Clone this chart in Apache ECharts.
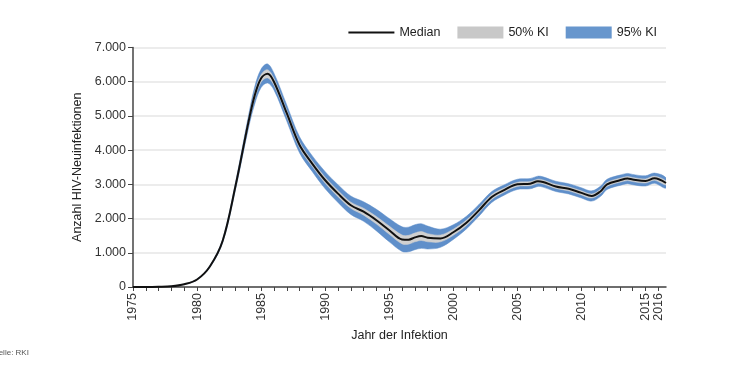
<!DOCTYPE html>
<html><head><meta charset="utf-8">
<script src="https://cdn.jsdelivr.net/npm/echarts@6/dist/echarts.min.js"></script>
<style>html,body{margin:0;padding:0;background:#fff}#c{width:750px;height:373px}</style>
</head><body><div id="c"></div>
<script>
// Years (x positions of the estimates)
var years = [1975,1976,1977,1978,1979,1980,1981,1982,1983,1984,1984.5,1985,1985.5,1986,1987,1988,1989,1990,1991,1992,1993,1994,1995,1996,1996.5,1997,1997.5,1998,1999,2000,2001,2002,2003,2004,2005,2006,2006.6,2007,2008,2009,2010,2010.8,2011.5,2012,2013,2013.6,2014,2015,2015.7,2016.6];
// Median number of new HIV infections
var median = [0,0,5,20,80,220,600,1350,2950,4800,5600,6100,6230,6000,5080,4150,3600,3120,2730,2390,2200,1950,1660,1390,1380,1450,1490,1440,1420,1600,1870,2240,2630,2840,3000,3020,3090,3070,2940,2870,2750,2660,2800,3000,3120,3170,3140,3100,3180,3040];
// 95% interval bounds
var lo95 = [0,0,5,18,75,210,575,1300,2850,4620,5350,5830,5960,5760,4850,3920,3370,2870,2470,2120,1920,1640,1320,1040,1030,1090,1130,1110,1160,1390,1690,2070,2470,2690,2850,2870,2940,2920,2790,2720,2600,2510,2650,2850,2970,3020,2990,2950,3030,2890];
var hi95 = [0,0,5,22,85,230,625,1400,3050,4980,5850,6370,6520,6250,5320,4390,3830,3370,2990,2660,2490,2270,2000,1760,1750,1820,1850,1780,1690,1820,2060,2410,2790,2990,3150,3170,3240,3220,3090,3020,2900,2810,2950,3150,3270,3320,3290,3250,3330,3190];
// 50% interval bounds
var lo50 = [0,0,5,19,78,215,590,1330,2910,4730,5500,5990,6110,5900,4990,4060,3520,3030,2640,2300,2100,1840,1540,1260,1250,1320,1360,1320,1320,1510,1790,2170,2560,2780,2940,2960,3030,3010,2880,2810,2690,2600,2740,2940,3060,3110,3080,3040,3120,2980];
var hi50 = [0,0,5,21,82,225,610,1370,2990,4870,5700,6210,6350,6100,5170,4240,3680,3210,2820,2480,2300,2060,1780,1520,1510,1580,1620,1560,1520,1690,1950,2310,2700,2900,3060,3080,3150,3130,3000,2930,2810,2720,2860,3060,3180,3230,3200,3160,3240,3100];
var xTickLabels = [1975,1980,1985,1990,1995,2000,2005,2010,2015,2016];

function pairs(arr){ return years.map(function(y,i){ return [y, arr[i]]; }); }
function de(v){ return String(v).replace(/\B(?=(\d{3})+(?!\d))/g,'.'); }

function bandRenderer(lo, hi, color){
  return function(params, api){
    if (params.dataIndex !== 0) return null;
    var top = years.map(function(y,i){ return api.coord([y, hi[i]]); });
    var bot = years.map(function(y,i){ return api.coord([y, lo[i]]); }).reverse();
    return {
      type:'polygon', shape:{points:top.concat(bot), smooth:0.35},
      style:{fill:color, stroke:color, lineWidth:0.5}
    };
  };
}

var FONT = "'Liberation Sans', Arial, sans-serif";
var chart = echarts.init(document.getElementById('c'), null, {renderer:'canvas'});
chart.setOption({
  animation:false,
  textStyle:{fontFamily:FONT},
  grid:{left:133, right:84, top:47.5, bottom:86},
  legend:{
    right:88, top:21, itemWidth:46, itemHeight:12, itemGap:17,
    textStyle:{fontFamily:FONT, fontSize:12.5, color:'#222'},
    data:[
      {name:'Median', icon:'path://M0,0 L46,0 L46,2 L0,2 Z', itemStyle:{color:'#111'}},
      {name:'50% KI', icon:'rect', itemStyle:{color:'#c8c8c8'}},
      {name:'95% KI', icon:'rect', itemStyle:{color:'#6796cd'}}
    ]
  },
  xAxis:{
    type:'value', min:1975, max:2016.6, interval:1,
    name:'Jahr der Infektion', nameLocation:'middle', nameGap:42,
    nameTextStyle:{fontFamily:FONT, fontSize:12.5, color:'#222'},
    axisLine:{lineStyle:{color:'#444', width:1.5}},
    axisTick:{length:4, lineStyle:{color:'#444'}},
    splitLine:{show:false},
    axisLabel:{rotate:90, fontSize:12.5, color:'#333', margin:6, fontFamily:FONT,
      showMaxLabel:false,
      formatter:function(v){ return xTickLabels.indexOf(v) >= 0 ? String(v) : ''; }}
  },
  yAxis:{
    type:'value', min:0, max:7000, interval:1000,
    name:'Anzahl HIV-Neuinfektionen', nameLocation:'middle', nameGap:47,
    nameTextStyle:{fontFamily:FONT, fontSize:12.5, color:'#222'},
    axisLine:{show:true, lineStyle:{color:'#444', width:1.5}},
    axisTick:{show:true, length:5, lineStyle:{color:'#444'}},
    splitLine:{lineStyle:{color:'#e6e6e6', width:1.5}},
    axisLabel:{fontSize:12.5, color:'#333', margin:7, fontFamily:FONT, formatter:function(v){return de(v);}}
  },
  series:[
    {name:'95% KI', type:'custom', data:pairs(hi95), itemStyle:{color:'#6796cd'},
     renderItem:bandRenderer(lo95, hi95, '#5f8fca'), clip:true, silent:true, z:1},
    {name:'50% KI', type:'custom', data:pairs(hi50), itemStyle:{color:'#c8c8c8'},
     renderItem:bandRenderer(lo50, hi50, '#d0d0d0'), clip:true, silent:true, z:2},
    {name:'Median', type:'line', data:pairs(median), smooth:0.35, showSymbol:false,
     lineStyle:{color:'#111', width:2}, itemStyle:{color:'#111'}, z:3}
  ],
  graphic:[
    {type:'text', left:-12, top:349, style:{text:'Quelle: RKI', fontFamily:FONT, fontSize:8, fill:'#555'}}
  ]
});
</script>
</body></html>
